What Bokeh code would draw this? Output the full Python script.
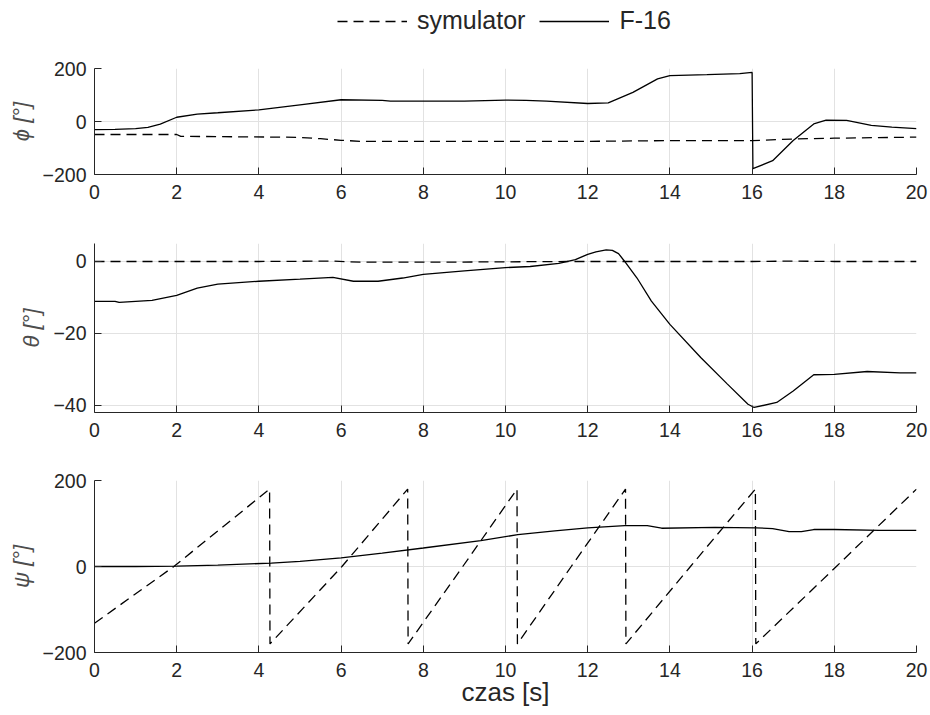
from bokeh.plotting import figure
from bokeh.layouts import column
from bokeh.models import Range1d, FixedTicker, Legend, LegendItem
from bokeh.embed import file_html
from bokeh.resources import INLINE

# ---------------- data ----------------
x_ticks = [0, 2, 4, 6, 8, 10, 12, 14, 16, 18, 20]

# phi
t_phi_f16 = [0, 0.5, 1.0, 1.3, 1.6, 2.0, 2.5, 3.0, 4.0, 5.0, 6.0, 7.0, 7.2, 8.0, 9.0, 10.0,
             10.5, 11.0, 12.0, 12.5, 13.1, 13.7, 14.0, 14.9, 15.7, 16.0, 16.02, 16.5, 17.0,
             17.5, 17.8, 18.3, 18.9, 19.4, 20.0]
phi_f16 = [-31, -30, -27, -22, -10, 16, 28, 33, 44, 63, 82, 80, 77, 77, 77, 81,
           80, 77, 68, 70, 110, 161, 173, 177, 181, 185, -178, -148, -72,
           -9, 5, 4, -15, -21, -27]
t_phi_sim = [0, 2.0, 2.1, 3.0, 4.5, 5.0, 5.5, 6.0, 6.5, 8, 10, 12, 13.3, 14, 16, 17, 18, 19, 20]
phi_sim = [-49, -49, -56, -57, -59, -60, -65, -71, -75, -75, -75, -75, -73, -72, -72, -66, -63, -61, -59]
phi_ticks = [-200, 0, 200]

# theta
t_theta_f16 = [0, 0.5, 0.6, 1.4, 2.0, 2.5, 3.0, 4.0, 5.0, 5.8, 6.3, 6.9, 7.5, 8.0, 9.0, 10.0,
               10.6, 11.3, 11.7, 12.0, 12.2, 12.45, 12.6, 12.75, 12.9, 13.2, 13.55, 14.0,
               14.75, 15.4, 15.9, 16.05, 16.6, 17.0, 17.5, 18.0, 18.8, 19.6, 20.0]
theta_f16 = [-11.1, -11.1, -11.4, -10.8, -9.4, -7.4, -6.3, -5.5, -4.9, -4.4, -5.5, -5.5, -4.6,
             -3.6, -2.6, -1.7, -1.4, -0.5, 0.5, 2.0, 2.7, 3.2, 3.1, 2.2, 0.0, -4.6, -11.0,
             -17.5, -26.7, -34.1, -39.7, -40.6, -39.2, -36.0, -31.5, -31.4, -30.6, -31.0, -31.0]
t_theta_sim = [0, 2, 4, 5.8, 6.2, 6.6, 8, 10, 11.5, 12, 14, 16, 17, 18, 20]
theta_sim = [0, 0, 0, 0.1, -0.1, -0.2, -0.2, -0.1, 0, 0, 0, 0, 0.1, 0, 0]
theta_ticks = [-40, -20, 0]

# psi
t_psi_f16 = [0, 1.0, 2.0, 3.0, 4.3, 5.0, 6.0, 7.0, 8.0, 9.4, 10.3, 11.2, 12.0, 12.9, 13.45,
             13.8, 15.1, 16.1, 16.5, 16.9, 17.2, 17.5, 18.0, 19.1, 20.0]
psi_f16 = [0, 0, 1, 3, 8, 12, 20, 31, 43, 60, 74, 83, 90, 95, 95,
           89, 91, 90, 88, 81, 81, 86, 86, 84, 84]
t_psi_sim = [0, 1.93, 4.26, 4.27, 6.02, 7.62, 7.63, 8.96, 10.28, 10.29, 11.6, 12.92, 12.93,
             14.5, 16.08, 16.09, 18.05, 20.0]
psi_sim = [-132, 0, 180, -180, 0, 180, -180, 0, 180, -180, 0, 180, -180, 0, 180, -180, 0, 180]
psi_ticks = [-200, 0, 200]

labels = ["symulator", "F-16"]

# ---------------- style ----------------
FONT = "Liberation Sans"
AX = "#262626"
GRID = "#e2e2e2"
DASH = "10 6"
LW = 1.3


def make_fig(fh, top, bottom, yr, yticks, ylabel, xlabel=None):
    p = figure(width=930, height=top + fh + bottom, frame_width=822, frame_height=fh,
               min_border_left=94, min_border_right=14, min_border_top=top,
               min_border_bottom=bottom, x_range=Range1d(0, 20), y_range=Range1d(*yr),
               output_backend="svg", toolbar_location=None, tools="")
    p.outline_line_color = None
    p.background_fill_color = "white"
    p.xaxis.ticker = FixedTicker(ticks=x_ticks)
    p.yaxis.ticker = FixedTicker(ticks=yticks)
    p.xgrid.ticker = FixedTicker(ticks=x_ticks)
    p.ygrid.ticker = FixedTicker(ticks=yticks)
    for ax in (p.xaxis, p.yaxis):
        ax.axis_line_color = AX
        ax.axis_line_width = 1
        ax.major_tick_line_color = AX
        ax.major_tick_in = 7
        ax.major_tick_out = 0
        ax.minor_tick_line_color = None
        ax.major_label_text_font = FONT
        ax.major_label_text_font_size = "19.5px"
        ax.major_label_text_color = AX
    p.xaxis.major_label_standoff = 10
    p.yaxis.major_label_standoff = 8
    p.yaxis.axis_label = ylabel
    p.yaxis.axis_label_text_font = FONT
    p.yaxis.axis_label_text_font_size = "22px"
    p.yaxis.axis_label_text_font_style = "italic"
    p.yaxis.axis_label_text_color = "#4d4d4d"
    p.yaxis.axis_label_standoff = 6
    if xlabel:
        p.xaxis.axis_label = xlabel
        p.xaxis.axis_label_text_font = FONT
        p.xaxis.axis_label_text_font_size = "26px"
        p.xaxis.axis_label_text_font_style = "normal"
        p.xaxis.axis_label_text_color = AX
        p.xaxis.axis_label_standoff = -3
    p.xgrid.grid_line_color = GRID
    p.ygrid.grid_line_color = GRID
    return p


# legend strip on top: key lines reuse the phi series, drawn outside the strip's range
p0 = figure(width=930, height=45, frame_width=930, frame_height=45,
            min_border_left=0, min_border_right=0, min_border_top=0, min_border_bottom=0,
            x_range=Range1d(0, 20), y_range=Range1d(1000, 1001),
            output_backend="svg", toolbar_location=None, tools="")
p0.axis.visible = False
p0.grid.visible = False
p0.outline_line_color = None
k_sim = p0.line(t_phi_sim, phi_sim, line_color="black", line_width=LW, line_dash=DASH)
k_f16 = p0.line(t_phi_f16, phi_f16, line_color="black", line_width=LW)
legend = Legend(items=[LegendItem(label=labels[0], renderers=[k_sim]),
                       LegendItem(label=labels[1], renderers=[k_f16])],
                location=(337, 10), orientation="horizontal",
                glyph_width=70, glyph_height=24, label_height=24, label_standoff=10,
                spacing=14, padding=0, margin=0, border_line_alpha=0,
                background_fill_alpha=0, label_text_font=FONT,
                label_text_font_size="25px", label_text_color=AX)
p0.add_layout(legend)

p1 = make_fig(106, 23, 41, (-200, 200), phi_ticks, "\u03d5 [\u00b0]")
p1.line(t_phi_sim, phi_sim, line_color="black", line_width=LW, line_dash=DASH)
p1.line(t_phi_f16, phi_f16, line_color="black", line_width=LW)

p2 = make_fig(169, 28, 38, (-42, 5), theta_ticks, "\u03b8 [\u00b0]")
p2.line(t_theta_sim, theta_sim, line_color="black", line_width=LW, line_dash=DASH)
p2.line(t_theta_f16, theta_f16, line_color="black", line_width=LW)

p3 = make_fig(172, 30, 63, (-200, 200), psi_ticks, "\u03c8 [\u00b0]", xlabel="czas [s]")
p3.line(t_psi_sim, psi_sim, line_color="black", line_width=LW, line_dash=DASH)
p3.line(t_psi_f16, psi_f16, line_color="black", line_width=LW)

layout = column(p0, p1, p2, p3, spacing=0)
open("out.html", "w").write(file_html(layout, INLINE))
